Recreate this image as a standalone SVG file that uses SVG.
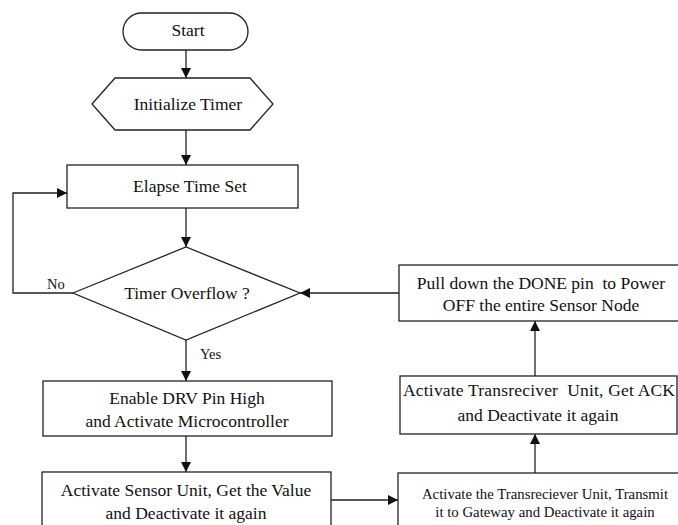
<svg xmlns="http://www.w3.org/2000/svg" width="678" height="525" viewBox="0 0 678 525">
<style>
.s{fill:#fff;stroke:#222;stroke-width:1.3}
.c{fill:none;stroke:#222;stroke-width:1.3}
text{font-family:"Liberation Serif","Times New Roman",serif;fill:#111;text-anchor:middle}
.t{font-size:17.5px}
.sm{font-size:14.8px}
.l{font-size:14.5px;text-anchor:start}
</style>
<defs>
<marker id="a" viewBox="0 0 10 10" refX="10" refY="5" markerWidth="10" markerHeight="10" markerUnits="userSpaceOnUse" orient="auto">
<path d="M0,0 L10,5 L0,10 z" fill="#111"/>
</marker>
</defs>
<rect width="678" height="525" fill="#fff"/>
<g id="connectors">
<line class="c" x1="186" y1="50" x2="186" y2="78" marker-end="url(#a)"/>
<line class="c" x1="186" y1="130" x2="186" y2="165" marker-end="url(#a)"/>
<line class="c" x1="186" y1="208" x2="186" y2="247" marker-end="url(#a)"/>
<polyline class="c" points="73,293 13,293 13,193 67,193" marker-end="url(#a)"/>
<line class="c" x1="186" y1="340" x2="186" y2="381" marker-end="url(#a)"/>
<line class="c" x1="186" y1="436" x2="186" y2="472" marker-end="url(#a)"/>
<line class="c" x1="331" y1="500" x2="398" y2="500" marker-end="url(#a)"/>
<line class="c" x1="535" y1="473" x2="535" y2="434" marker-end="url(#a)"/>
<line class="c" x1="535" y1="376" x2="535" y2="321" marker-end="url(#a)"/>
<line class="c" x1="399" y1="293" x2="300" y2="293" marker-end="url(#a)"/>
<text class="l" x="47" y="289">No</text>
<text class="l" x="200" y="359">Yes</text>
</g>
<g id="start">
<rect class="s" x="123" y="13" width="125" height="37" rx="18.5"/>
<text class="t" x="188" y="36">Start</text>
</g>
<g id="init">
<polygon class="s" points="92,104 115,78 250,78 273,104 250,130 115,130"/>
<text class="t" x="188" y="110">Initialize Timer</text>
</g>
<g id="elapse">
<rect class="s" x="67" y="165" width="231" height="43"/>
<text class="t" x="190" y="192">Elapse Time Set</text>
</g>
<g id="overflow">
<polygon class="s" points="73,293 186,247 300,293 186,340"/>
<text class="t" x="187" y="299">Timer Overflow ?</text>
</g>
<g id="enable">
<rect class="s" x="43" y="381" width="289" height="55"/>
<text class="t" x="187" y="404">Enable DRV Pin High</text>
<text class="t" x="187" y="427">and Activate Microcontroller</text>
</g>
<g id="sensor">
<rect class="s" x="42" y="472" width="289" height="60"/>
<text class="t" x="186" y="496">Activate Sensor Unit, Get the Value</text>
<text class="t" x="186" y="519">and Deactivate it again</text>
</g>
<g id="transmit">
<rect class="s" x="398" y="473" width="285" height="60"/>
<text class="sm" x="545" y="499">Activate the Transreciever Unit, Transmit</text>
<text class="sm" x="545" y="517">it to Gateway and Deactivate it again</text>
</g>
<g id="ack">
<rect class="s" x="400" y="376" width="277" height="58"/>
<text class="t" x="539" y="396" xml:space="preserve" textLength="272">Activate Transreciver  Unit, Get ACK</text>
<text class="t" x="538" y="421">and Deactivate it again</text>
</g>
<g id="pulldown">
<rect class="s" x="399" y="265" width="285" height="56"/>
<text class="t" x="541" y="289" xml:space="preserve">Pull down the DONE pin  to Power</text>
<text class="t" x="541" y="311">OFF the entire Sensor Node</text>
</g>
</svg>
